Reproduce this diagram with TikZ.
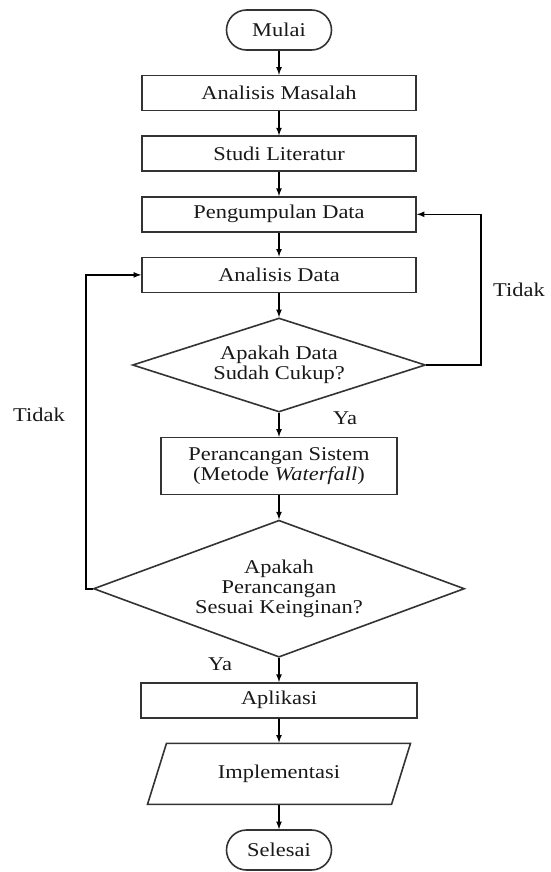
\documentclass[tikz,border=0pt]{standalone}
\usepackage{fontspec}
\setmainfont{Liberation Serif}[FakeStretch=1.15]
\usetikzlibrary{arrows, positioning, shapes.geometric, shapes.misc}

\tikzset{
  terminal/.style={rounded rectangle, draw=black!80, minimum width=105pt, minimum height=40pt, inner sep=0pt},
  process/.style={rectangle, draw=black!80, minimum width=274pt, minimum height=35pt, inner sep=0pt, align=center},
  decision/.style={diamond, draw=black!80, inner sep=0pt, align=center},
  inout/.style={trapezium, trapezium left angle=43, trapezium right angle=137, trapezium stretches body,
    draw=black!80, minimum width=263pt, minimum height=61pt, inner sep=0pt},
}

\begin{document}
\begin{tikzpicture}[auto, x=1pt, y=1pt, node distance=24pt, line width=1.6pt, >=latex,
  every node/.style={font=\fontsize{19.5}{20}\selectfont, text=black!90}]
   \useasboundingbox (0,0) rectangle (550,-872);

   \node[terminal] (mulai) at (279,-30) {Mulai};
   \node[process] (masalah) [below=of mulai] {Analisis Masalah};
   \node[process] (literatur) [below=of masalah] {Studi Literatur};
   \node[process] (kumpul) [below=of literatur] {Pengumpulan Data};
   \node[process] (analisis) [below=of kumpul] {Analisis Data};
   \node[decision, aspect=3.1, minimum width=293pt, minimum height=94pt] (cukup) [below=of analisis] {Apakah Data\\Sudah Cukup?};
   \node[process, minimum width=236pt, minimum height=57pt] (rancang) [below=of cukup] {Perancangan Sistem\\(Metode \textit{Waterfall})};
   \node[decision, aspect=2.7, minimum width=371pt, minimum height=137pt] (sesuai) [below=of rancang] {Apakah\\Perancangan\\Sesuai Keinginan?};
   \node[process, minimum width=276pt] (aplikasi) [below=of sesuai] {Aplikasi};
   \node[inout] (impl) [below=of aplikasi] {Implementasi};
   \node[terminal] (selesai) [below=of impl] {Selesai};

   \coordinate (kanan) at (481,0);
   \coordinate (kiri) at (86,0);
   \node (ya1) at (345,-418) {Ya};
   \node (ya2) at (220,-664) {Ya};
   \node (tidak1) at (519,-290) {Tidak};
   \node (tidak2) at (39,-415) {Tidak};

   \path[->] (mulai) edge (masalah);
   \path[->] (masalah) edge (literatur);
   \path[->] (literatur) edge (kumpul);
   \path[->] (kumpul) edge (analisis);
   \path[->] (analisis) edge (cukup);
   \path[->] (cukup) edge (rancang);
   \path[->] (rancang) edge (sesuai);
   \path[->] (sesuai) edge (aplikasi);
   \path[->] (aplikasi) edge (impl);
   \path[->] (impl) edge (selesai);
   \draw[->] (cukup.east) -- (cukup.east -| kanan) |- (kumpul.east);
   \draw[->] (sesuai.west) -- (sesuai.west -| kiri) |- (analisis.west);
\end{tikzpicture}
\end{document}
